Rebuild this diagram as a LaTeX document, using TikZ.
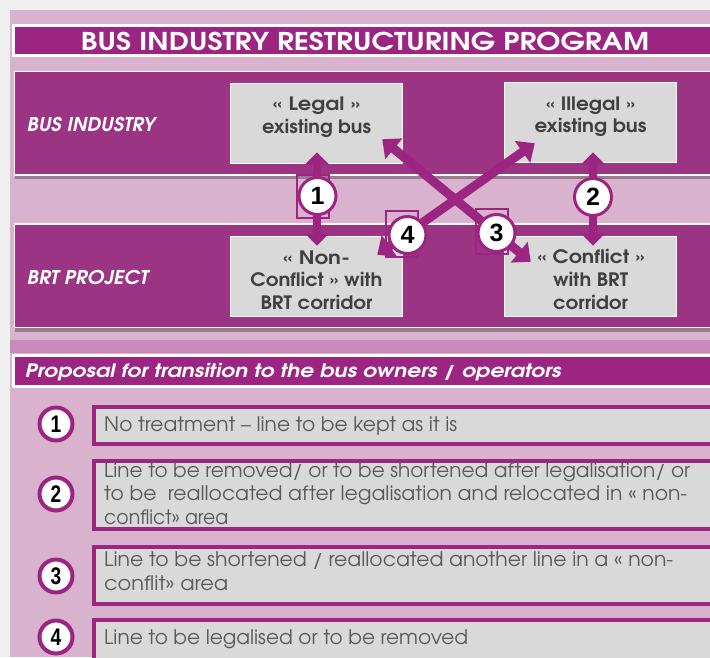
\documentclass[tikz,border=0pt]{standalone}
\usepackage{graphicx}
\usepackage{fontspec}
\setmainfont{TeX Gyre Adventor}
\newfontfamily\numfont{Liberation Sans}
\usetikzlibrary{arrows.meta,shadows,calc}
\definecolor{pagebg}{HTML}{EFEFEF}
\definecolor{pinkbg}{HTML}{D9B2CE}
\definecolor{darkpink}{HTML}{C98BB9}
\definecolor{titlepurple}{HTML}{9D2582}
\definecolor{bandpurple}{HTML}{9A3483}
\definecolor{arrowpurple}{HTML}{9C2582}
\definecolor{boxgray}{HTML}{D9D9D9}
\definecolor{boxtext}{HTML}{404040}
\definecolor{legtext}{HTML}{595959}
\newcommand\fw[2]{\resizebox{#1pt}{\height}{#2}}
\tikzset{
 band/.style={fill=bandpurple, draw=white, line width=1.5pt, inner sep=0pt, anchor=north west,
   drop shadow={shadow xshift=0pt, shadow yshift=-4pt, opacity=0.3, fill=black}},
 hbar/.style={fill=titlepurple, draw=white, line width=3pt, inner sep=0pt, anchor=north west},
 graybox/.style={fill=boxgray, draw=white, line width=1.5pt, inner sep=0pt, minimum width=172pt, minimum height=80pt},
 boxlabel/.style={anchor=base, inner sep=0pt, text=boxtext, font=\fontsize{18.5}{22}\selectfont\bfseries},
 rowlabel/.style={anchor=base west, inner sep=0pt, text=white, font=\fontsize{19}{22}\selectfont\bfseries\itshape},
 bigarrow/.style={draw=arrowpurple, line width=8pt, {Triangle[width=23pt,length=12pt]}-{Triangle[width=23pt,length=12pt]}},
 crossarrow/.style={draw=arrowpurple, line width=9pt, {Triangle[width=26pt,length=15pt]}-{Triangle[width=26pt,length=15pt]}},
 numcircle/.style={circle, fill=white, draw=arrowpurple, line width=3pt, minimum size=37pt, inner sep=0pt, font=\numfont\fontsize{25}{25}\selectfont\bfseries},
 legcircle/.style={circle, fill=white, draw=arrowpurple, line width=4pt, minimum size=33pt, inner sep=0pt, font=\numfont\fontsize{24}{24}\selectfont\bfseries},
 legbox/.style={fill=boxgray, draw=arrowpurple, line width=4pt, inner sep=0pt, anchor=north west, minimum width=630pt},
 legline/.style={anchor=base west, inner sep=0pt, text=legtext, font=\fontsize{20}{22}\selectfont},
 sqframe/.style={draw=arrowpurple, line width=1.2pt},
}
\begin{document}
\begin{tikzpicture}[x=1pt,y=-1pt]
\useasboundingbox (0,0) rectangle (710,657);
\fill[pagebg] (0,0) rectangle (710,657);
\fill[pinkbg] (10,10) rectangle (710,657);
\fill[darkpink] (10,340) rectangle (710,352.5);
% title
\node[hbar, minimum width=710pt, minimum height=30.5pt] (titlebar) at (11.5,23.5) {};
\node[anchor=base, inner sep=0pt, text=white, font=\fontsize{24.5}{24}\selectfont\bfseries] (title) at (365,50) {\fw{568}{BUS INDUSTRY RESTRUCTURING PROGRAM}};
% bands
\node[band, minimum width=710pt, minimum height=103.5pt] (upband) at (13.75,70.75) {};
\node[band, minimum width=710pt, minimum height=103.5pt] (lowband) at (13.75,223.25) {};
\node[rowlabel] (bi) at (27,131.5) {\fw{128}{BUS INDUSTRY}};
\node[rowlabel] (brt) at (27,284) {\fw{121}{BRT PROJECT}};
% boxes
\node[graybox] (legal) at (316.5,123.5) {};
\node[graybox] (illegal) at (590.5,122.5) {};
\node[graybox] (nonc) at (316.5,276.5) {};
\node[graybox] (conf) at (590.5,276.5) {};
\node[boxlabel] (l1) at (316.5,110) {\fw{87}{« Legal »}};
\node[boxlabel] (l2) at (316.5,133) {\fw{109}{existing bus}};
\node[boxlabel] (i1) at (590.5,110) {\fw{89}{« Illegal »}};
\node[boxlabel] (i2) at (590.5,132.5) {\fw{112}{existing bus}};
\node[boxlabel] (n1) at (316.5,264) {\fw{67}{« Non-}};
\node[boxlabel] (n2) at (316.5,286.5) {\fw{132}{Conflict » with}};
\node[boxlabel] (n3) at (316.5,309.5) {\fw{112}{BRT corridor}};
\node[boxlabel] (c1) at (591,263.5) {\fw{107}{« Conflict »}};
\node[boxlabel] (c2) at (590.5,286.5) {\fw{75}{with BRT}};
\node[boxlabel] (c3) at (590.5,309.5) {\fw{75}{corridor}};
% arrow end points
\coordinate (a1t) at ($(legal.south)+(0.5,-12)$);
\coordinate (a1b) at ($(nonc.north)+(0.5,10)$);
\coordinate (a2t) at ($(illegal.south)+(2.5,-11)$);
\coordinate (a2b) at ($(conf.north)+(2.5,10)$);
\coordinate (a3t) at ($(legal.south east)+(-21,-25)$);
\coordinate (a3b) at ($(conf.north west)+(27,26)$);
\coordinate (a4t) at ($(illegal.south west)+(31,-20)$);
\coordinate (a4b) at ($(nonc.north east)+(-26,19)$);
\draw[bigarrow] (a1t) -- (a1b);
\draw[bigarrow] (a2t) -- (a2b);
\draw[crossarrow] (a4t) -- (a4b);
\draw[crossarrow] (a3t) -- (a3b);
% small frames
\draw[sqframe] (297,175) rectangle (329,218);
\draw[sqframe] (386,211) rectangle (418,257);
\draw[sqframe] (476,209) rectangle (508,254);
% circles
\node[numcircle] (n1c) at (317.5,196) {1};
\node[numcircle] (n2c) at (593,197) {2};
\node[numcircle] (n4c) at (407.5,235) {4};
\node[numcircle] (n3c) at (496.5,233) {3};
% proposal header
\node[hbar, minimum width=710pt, minimum height=31pt] (propbar) at (11.5,353.5) {};
\node[anchor=base west, inner sep=0pt, text=white, font=\fontsize{18.5}{22}\selectfont\bfseries\itshape] (prop) at (25,377) {\fw{536}{Proposal for transition to the bus owners / operators}};
% legend
\node[legbox, minimum height=37pt] (lb1) at (92,405) {};
\node[legbox, minimum height=68pt] (lb2) at (92,459) {};
\node[legbox, minimum height=57pt] (lb3) at (92,545) {};
\node[legbox, minimum height=52pt] (lb4) at (92,618) {};
\node[legcircle] (k1) at (56,424) {\scalebox{0.8}[1]{1}};
\node[legcircle] (k2) at (56,494) {\scalebox{0.8}[1]{2}};
\node[legcircle] (k3) at (56,576) {\scalebox{0.8}[1]{3}};
\node[legcircle] (k4) at (56,637) {\scalebox{0.8}[1]{4}};
\node[legline] (t1) at (104,431) {\fw{353}{No treatment – line to be kept as it is}};
\node[legline] (t2a) at (104,477) {\fw{586}{Line to be removed/ or to be shortened after legalisation/ or}};
\node[legline] (t2b) at (104,500.5) {\fw{583}{to be\ \ reallocated after legalisation and relocated in « non-}};
\node[legline] (t2c) at (104,524) {\fw{124}{conflict» area}};
\node[legline] (t3a) at (104,566) {\fw{569}{Line to be shortened / reallocated another line in a « non-}};
\node[legline] (t3b) at (104,590) {\fw{124}{conflit» area}};
\node[legline] (t4) at (104,644) {\fw{364}{Line to be legalised or to be removed}};
\end{tikzpicture}
\end{document}
